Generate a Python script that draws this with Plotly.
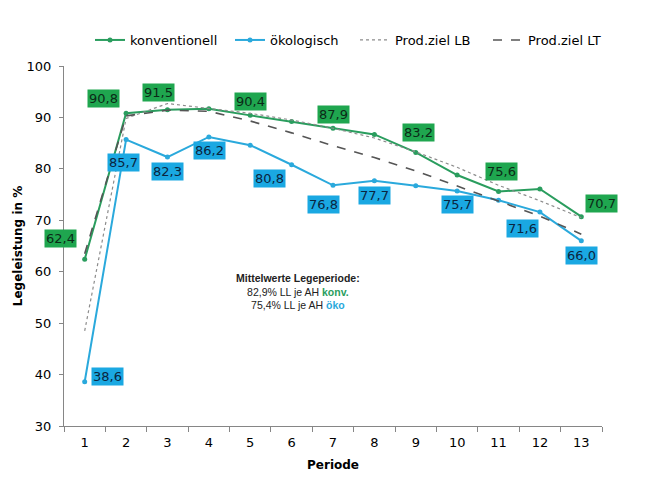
import plotly.graph_objects as go

perioden = list(range(1, 14))
konventionell = [62.4, 90.8, 91.5, 91.7, 90.4, 89.2, 87.9, 86.7, 83.2, 78.8, 75.6, 76.1, 70.7]
oekologisch = [38.6, 85.7, 82.3, 86.2, 84.6, 80.8, 76.8, 77.7, 76.7, 75.7, 73.9, 71.6, 66.0]
prodziel_lb = [48.5, 89.8, 92.7, 91.8, 90.8, 89.5, 87.9, 86.0, 83.3, 80.3, 76.8, 73.8, 70.5]
prodziel_lt = [63.5, 90.3, 91.4, 91.2, 89.3, 87.0, 84.5, 82.2, 79.6, 76.7, 73.8, 70.8, 67.3]

# labelled points (period index) and pixel offsets of their boxes
konv_labels = {1: (-24, 21), 2: (-23, 15), 3: (-9, 17), 5: (0, 14), 7: (0, 14),
               9: (3, 20), 11: (3, 20), 13: (20, 13)}
oeko_labels = {1: (23, 5), 2: (-3, -23), 3: (0, -14), 4: (1, -14), 6: (-22, -14),
               7: (-10, -19), 8: (0, -15), 10: (0, -14), 12: (-17, -16), 13: (0, -15)}

GREEN_LINE = "#2A9D5E"
BLUE_LINE = "#2AA9DC"
GREEN_BOX = "#1FA64F"
BLUE_BOX = "#1AA8E2"

W, H = 646, 484
# legend text start positions (px) of each entry
legend_text_x = [132, 272, 397, 530]

fig = go.Figure()
fig.add_trace(go.Scatter(x=perioden, y=konventionell, name="konventionell", mode="lines+markers",
                         line=dict(color=GREEN_LINE, width=2), marker=dict(size=5, color=GREEN_LINE),
                         legend="legend"))
fig.add_trace(go.Scatter(x=perioden, y=oekologisch, name="ökologisch", mode="lines+markers",
                         line=dict(color=BLUE_LINE, width=2), marker=dict(size=5, color=BLUE_LINE),
                         legend="legend2"))
fig.add_trace(go.Scatter(x=perioden, y=prodziel_lb, name="Prod.ziel LB", mode="lines",
                         line=dict(color="#8C8C8C", width=1.2, dash="dot"), legend="legend3"))
fig.add_trace(go.Scatter(x=perioden, y=prodziel_lt, name="Prod.ziel LT", mode="lines",
                         line=dict(color="#555555", width=1.6, dash="dash"), legend="legend4"))

def fmt(v):
    return f"{v:.1f}".replace(".", ",")

annotations = []
for p, (dx, dy) in konv_labels.items():
    annotations.append(dict(x=p, y=konventionell[p - 1], text=fmt(konventionell[p - 1]),
                            showarrow=False, xshift=dx, yshift=dy, bgcolor=GREEN_BOX,
                            borderpad=1, font=dict(family="DejaVu Sans", size=13, color="#0B2A17")))
for p, (dx, dy) in oeko_labels.items():
    annotations.append(dict(x=p, y=oekologisch[p - 1], text=fmt(oekologisch[p - 1]),
                            showarrow=False, xshift=dx, yshift=dy, bgcolor=BLUE_BOX,
                            borderpad=1, font=dict(family="DejaVu Sans", size=13, color="#0A2540")))

annotations.append(dict(
    x=6.15, y=56.1, xref="x", yref="y", showarrow=False, align="center",
    text=("<b>Mittelwerte Legeperiode:</b><br>"
          "82,9% LL je AH <b><span style='color:#2A9D5E'>konv.</span></b><br>"
          "75,4% LL je AH <b><span style='color:#2AA9DC'>öko</span></b>"),
    font=dict(family="Liberation Sans", size=10.5, color="#222222")))

def legend_cfg(tx):
    return dict(orientation="h", xref="container", yref="container",
                x=(tx - 42) / W, y=1 - 40 / H, xanchor="left", yanchor="middle",
                font=dict(family="DejaVu Sans", size=13), itemwidth=30,
                bgcolor="rgba(0,0,0,0)")

fig.update_layout(
    width=W, height=H,
    paper_bgcolor="white", plot_bgcolor="white",
    margin=dict(l=64, r=44, t=66, b=58, autoexpand=False),
    font=dict(family="DejaVu Sans", size=13, color="#000000"),
    showlegend=True,
    legend=legend_cfg(legend_text_x[0]),
    legend2=legend_cfg(legend_text_x[1]),
    legend3=legend_cfg(legend_text_x[2]),
    legend4=legend_cfg(legend_text_x[3]),
    annotations=annotations,
)

fig.update_xaxes(range=[0.5, 13.5], tickvals=perioden, ticktext=[str(p) for p in perioden],
                 ticks="", showline=True, linecolor="#868686", linewidth=1, showgrid=False,
                 zeroline=False, automargin=False, ticklabelstandoff=4,
                 minor=dict(tick0=0.5, dtick=1, ticks="outside", ticklen=5, tickcolor="#868686"),
                 title=dict(text="<b>Periode</b>", font=dict(family="DejaVu Sans", size=12), standoff=12),
                 tickfont=dict(family="DejaVu Sans", size=13))
fig.update_yaxes(range=[30, 100], dtick=10, ticks="outside", ticklen=4, tickcolor="#868686",
                 showline=True, linecolor="#868686", linewidth=1, showgrid=False, zeroline=False,
                 automargin=False, ticklabelstandoff=5,
                 title=dict(text="<b>Legeleistung in %</b>", font=dict(family="DejaVu Sans", size=12), standoff=1),
                 tickfont=dict(family="DejaVu Sans", size=13))

fig.write_html("out.html", config={"displayModeBar": False},
               post_script="document.body.style.margin='0';")
